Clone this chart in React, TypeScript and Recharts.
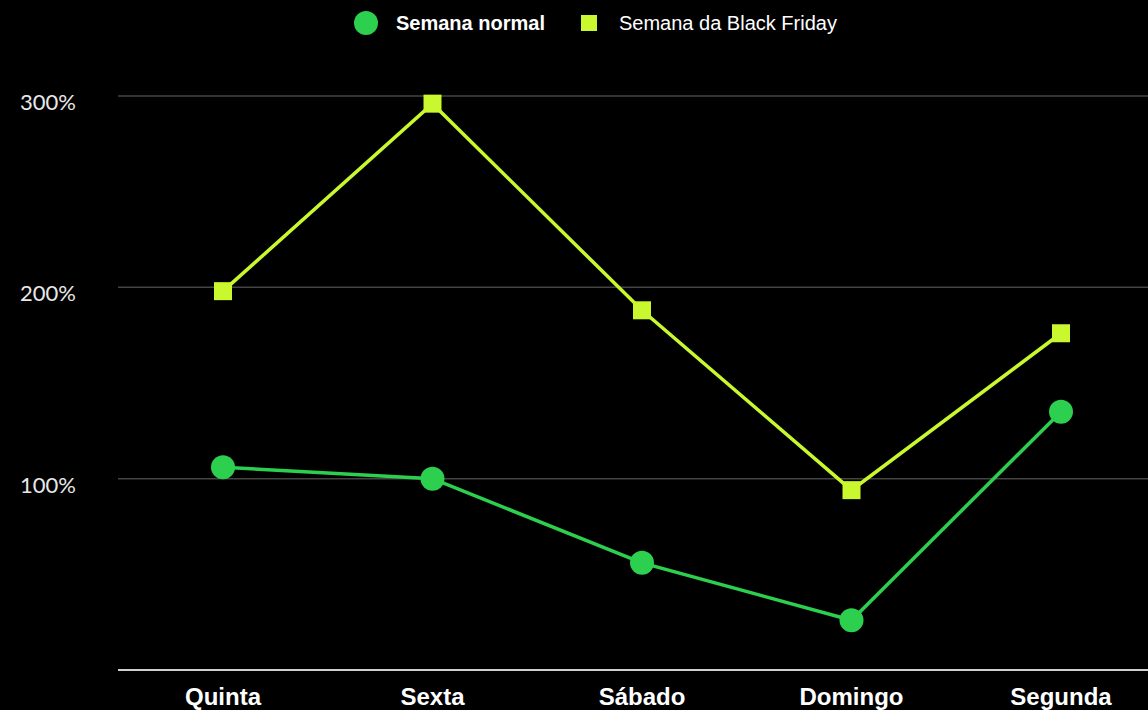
import React from 'react';
import { LineChart, Line, XAxis, YAxis, CartesianGrid, Legend } from 'recharts';

const days = ['Quinta', 'Sexta', 'Sábado', 'Domingo', 'Segunda'];
const normalWeek = [106, 100, 56, 26, 135];
const blackFridayWeek = [198, 296, 188, 94, 176];
const yTicks = [0, 100, 200, 300];

const GREEN = '#2dcf4f';
const LIME = '#c8f82d';

const data = days.map((day, i) => ({
  day,
  normal: normalWeek[i],
  blackFriday: blackFridayWeek[i],
}));

const YTick = ({ y, payload }: any) => {
  if (payload.value === 0) return null;
  return (
    <text x={20} y={y + 14} fill="#e8e8e8" fontSize={22} fontFamily="Lato, sans-serif" textAnchor="start">
      {`${payload.value}%`}
    </text>
  );
};

const XTick = ({ x, payload }: any) => (
  <text x={x} y={705} fill="#ffffff" fontSize={24} fontWeight="bold" fontFamily="'Liberation Sans', Arial, sans-serif" textAnchor="middle">
    {payload.value}
  </text>
);

const SquareDot = ({ cx, cy, index }: any) => (
  <rect key={`sq-${index}`} x={cx - 9} y={cy - 9} width={18} height={18} fill={LIME} />
);

const LegendContent = () => (
  <div style={{ height: 46, position: 'relative' }}>
    <svg width={1148} height={46} style={{ position: 'absolute', left: 0, top: 0 }}>
      <circle cx={366} cy={23} r={12} fill={GREEN} />
      <text x={396} y={30} fill="#fff" fontWeight="bold" fontSize={20} fontFamily="'Liberation Sans', Arial, sans-serif">Semana normal</text>
      <rect x={581} y={15} width={16} height={16} fill={LIME} />
      <text x={619} y={30} fill="#fff" fontSize={20} fontFamily="'Liberation Sans', Arial, sans-serif">Semana da Black Friday</text>
    </svg>
  </div>
);

export default function App() {
  return (
    <div style={{ position: 'fixed', left: 0, top: 0, width: 1148, height: 710, background: '#000', overflow: 'hidden' }}>
      <LineChart width={1148} height={710} data={data} margin={{ top: 50, right: 0, left: 0, bottom: 10 }}>
        <Legend verticalAlign="top" align="left" content={<LegendContent />} wrapperStyle={{ top: 0, left: 0, width: 1148 }} />
        <CartesianGrid vertical={false} stroke="#444" strokeWidth={1.5} />
        <XAxis
          dataKey="day"
          height={30}
          padding={{ left: 105, right: 87 }}
          axisLine={{ stroke: '#cfcfcf', strokeWidth: 2 }}
          tickLine={false}
          tick={<XTick />}
          interval={0}
        />
        <YAxis
          width={118}
          domain={[0, 300]}
          ticks={yTicks}
          axisLine={false}
          tickLine={false}
          tick={<YTick />}
        />
        <Line
          dataKey="normal"
          stroke={GREEN}
          strokeWidth={3.5}
          dot={{ r: 12, fill: GREEN, stroke: 'none' }}
          activeDot={false}
          isAnimationActive={false}
        />
        <Line
          dataKey="blackFriday"
          stroke={LIME}
          strokeWidth={3.5}
          dot={<SquareDot />}
          activeDot={false}
          isAnimationActive={false}
        />
      </LineChart>
    </div>
  );
}
